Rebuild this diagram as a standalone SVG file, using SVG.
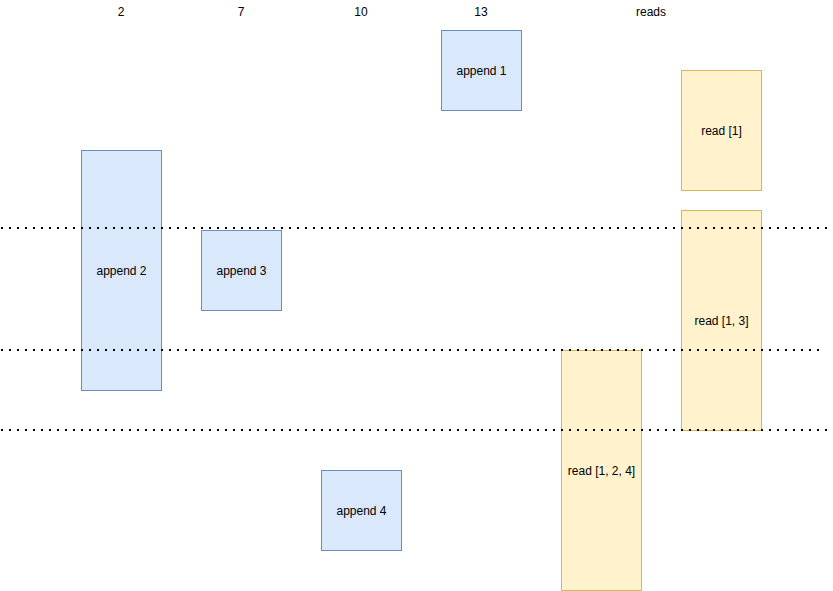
<svg xmlns="http://www.w3.org/2000/svg" width="833" height="591" viewBox="0 0 833 591">
<style>
text{font-family:"Liberation Sans",Arial,Helvetica,sans-serif;font-size:12px;fill:#000;text-anchor:middle;dominant-baseline:central}
.ap{fill:#dae8fc;stroke:#6c8ebf;stroke-width:1}
.rd{fill:#fff2cc;stroke:#d6b656;stroke-width:1}
.dot{stroke:#000;stroke-width:2;stroke-dasharray:2 6;fill:none}
</style>
<rect width="833" height="591" fill="#fff"/>
<g id="headers">
<text x="121" y="12">2</text>
<text x="241" y="12">7</text>
<text x="361" y="12">10</text>
<text x="481" y="12">13</text>
<text x="651" y="12">reads</text>
</g>
<g id="append1"><rect class="ap" x="441.5" y="30.5" width="80" height="80"/><text x="481.5" y="70.5">append 1</text></g>
<g id="read1"><rect class="rd" x="681.5" y="70.5" width="80" height="120"/><text x="721.5" y="130.5">read [1]</text></g>
<g id="append2"><rect class="ap" x="81.5" y="150.5" width="80" height="240"/><text x="121.5" y="270.5">append 2</text></g>
<g id="append3"><rect class="ap" x="201.5" y="230.5" width="80" height="80"/><text x="241.5" y="270.5">append 3</text></g>
<g id="read13"><rect class="rd" x="681.5" y="210.5" width="80" height="220"/><text x="721.5" y="320.5">read [1, 3]</text></g>
<g id="read124"><rect class="rd" x="561.5" y="350.5" width="80" height="240"/><text x="601.5" y="470.5">read [1, 2, 4]</text></g>
<g id="append4"><rect class="ap" x="321.5" y="470.5" width="80" height="80"/><text x="361.5" y="510.5">append 4</text></g>
<g id="connectors">
<line class="dot" x1="1" y1="228" x2="830" y2="228"/>
<line class="dot" x1="1" y1="350" x2="822" y2="350"/>
<line class="dot" x1="1" y1="430" x2="830" y2="430"/>
</g>
</svg>
